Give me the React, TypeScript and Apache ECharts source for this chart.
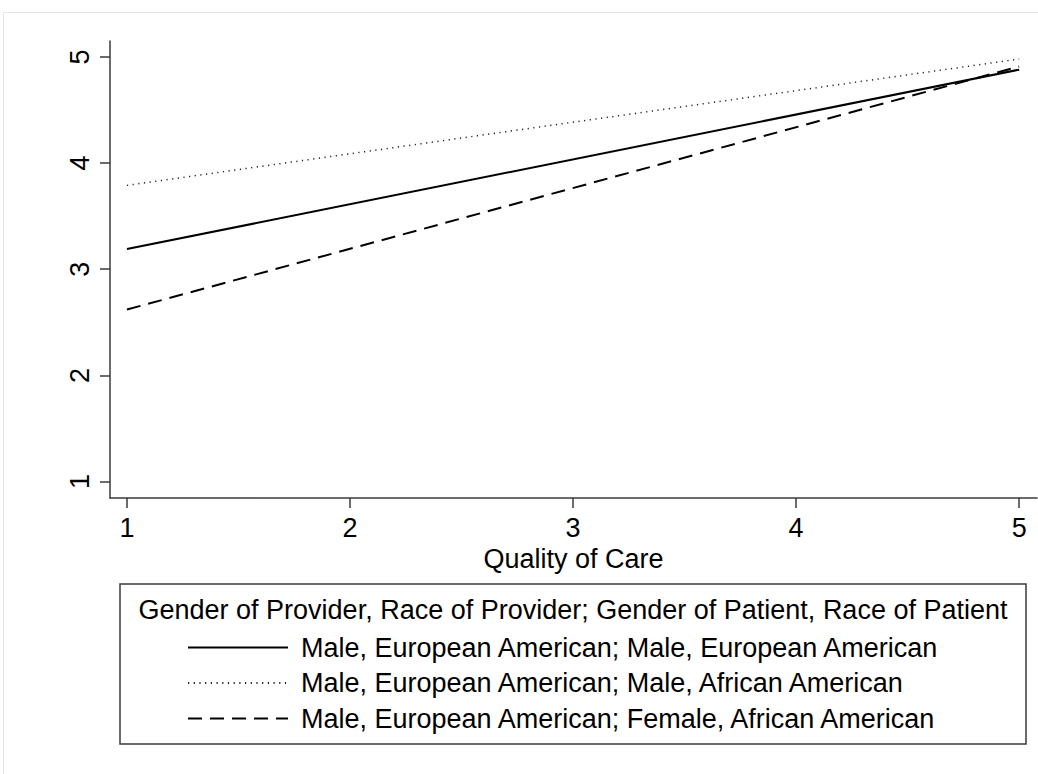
import React, { useEffect, useRef } from "react";
import * as echarts from "echarts";

const seriesNames = [
  "Male, European American; Male, European American",
  "Male, European American; Male, African American",
  "Male, European American; Female, African American",
];
const xValues = [1, 5];
const solidValues = [3.19, 4.88];
const dottedValues = [3.79, 4.98];
const dashedValues = [2.62, 4.91];
const tickLabels = ["1", "2", "3", "4", "5"];
const legendTitle =
  "Gender of Provider, Race of Provider; Gender of Patient, Race of Patient";
const xTitle = "Quality of Care";

const FONT = "Liberation Sans, Arial, sans-serif";
const FS = 27;

export default function App() {
  const ref = useRef<HTMLDivElement>(null);
  useEffect(() => {
    if (!ref.current) return;
    const chart = echarts.init(ref.current, undefined, { renderer: "svg" });
    const mk = (vals: number[]) => xValues.map((x, i) => [x, vals[i]]);
    const axisColor = "#3a3a3a";
    chart.setOption({
      animation: false,
      backgroundColor: "#ffffff",
      textStyle: { fontFamily: FONT },
      grid: { left: 110, right: 1, top: 41, bottom: 276, containLabel: false },
      xAxis: {
        type: "value",
        min: 0.924,
        max: 5.08,
        splitLine: { show: false },
        axisLine: { show: true, lineStyle: { color: axisColor, width: 1.5 } },
        axisTick: {
          show: true,
          length: 10,
          lineStyle: { color: axisColor, width: 1.5 },
          customValues: [1, 2, 3, 4, 5],
        },
        axisLabel: {
          customValues: [1, 2, 3, 4, 5],
          formatter: (v: number) => tickLabels[Math.round(v) - 1] ?? "",
          color: "#000",
          fontSize: FS,
          fontFamily: FONT,
          margin: 16,
        },
        name: xTitle,
        nameLocation: "middle",
        nameGap: 43,
        nameTextStyle: { color: "#000", fontSize: FS, fontFamily: FONT },
      },
      yAxis: {
        type: "value",
        min: 0.845,
        max: 5.15,
        splitLine: { show: false },
        axisLine: { show: true, lineStyle: { color: axisColor, width: 1.5 } },
        axisTick: {
          show: true,
          length: 10,
          lineStyle: { color: axisColor, width: 1.5 },
          customValues: [1, 2, 3, 4, 5],
        },
        axisLabel: {
          customValues: [1, 2, 3, 4, 5],
          formatter: (v: number) => tickLabels[Math.round(v) - 1] ?? "",
          color: "#000",
          fontSize: FS,
          fontFamily: FONT,
          rotate: 90,
          margin: 17,
        },
      },
      legend: {
        orient: "vertical",
        left: 182,
        top: 629,
        itemWidth: 100,
        itemHeight: 14,
        itemGap: 8.5,
        data: seriesNames,
        itemStyle: { opacity: 0 },
        textStyle: {
          color: "#000",
          fontSize: FS,
          fontFamily: FONT,
          lineHeight: 24,
          padding: [0, 0, 0, 8],
        },
      },
      series: [
        {
          name: seriesNames[0],
          type: "line",
          data: mk(solidValues),
          symbol: "none",
          itemStyle: { color: "#000" },
          lineStyle: { color: "#000", width: 2, type: "solid" },
        },
        {
          name: seriesNames[1],
          type: "line",
          data: mk(dottedValues),
          symbol: "none",
          itemStyle: { color: "#000" },
          lineStyle: { color: "#222", width: 1.5, type: [1.2, 4.5] },
        },
        {
          name: seriesNames[2],
          type: "line",
          data: mk(dashedValues),
          symbol: "none",
          itemStyle: { color: "#000" },
          lineStyle: { color: "#000", width: 2, type: [14, 8] },
        },
      ],
      graphic: [
        {
          type: "rect",
          shape: { x: 3.5, y: 12.5, width: 1040, height: 770 },
          style: { fill: "none", stroke: "#dfe7e7", lineWidth: 1 },
          silent: true,
        },
        {
          type: "rect",
          shape: { x: 120, y: 584, width: 906, height: 160 },
          style: { fill: "none", stroke: "#3a3a3a", lineWidth: 1.5 },
          silent: true,
        },
        {
          type: "text",
          x: 573,
          y: 610,
          style: {
            text: legendTitle,
            fontSize: FS,
            fontFamily: FONT,
            fill: "#000",
            align: "center",
            verticalAlign: "middle",
          },
          silent: true,
        },
      ],
    });
    return () => chart.dispose();
  }, []);
  return (
    <div
      ref={ref}
      style={{ position: "absolute", left: 0, top: 0, width: 1038, height: 774 }}
    />
  );
}
